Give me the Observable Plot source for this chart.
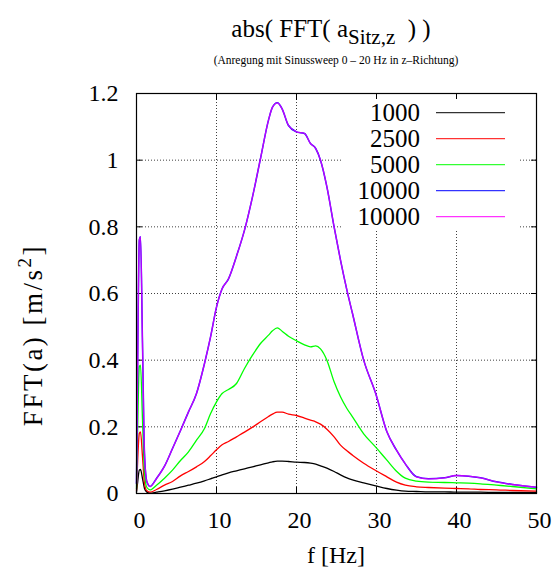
<!DOCTYPE html>
<html><head><meta charset="utf-8">
<script src="https://cdn.jsdelivr.net/npm/d3@7"></script>
<script src="https://cdn.jsdelivr.net/npm/@observablehq/plot@0.6"></script>
<style>
body{margin:0;background:#fff;}
#chart{width:554px;height:569px;}
#chart svg, #chart svg text, #chart svg tspan {font-family: "Liberation Serif", "Times New Roman", "DejaVu Serif", serif !important;}
</style>
</head><body><div id="chart"></div>
<script>
const freq = [0,0.15,0.35,0.5,0.75,1,1.3,1.7,2.5,3.5,4.5,5.5,6.5,7.5,8.5,9.25,10,10.7,11.5,12.5,13.5,14.5,15.5,16.5,17,17.6,18.2,19,20,21,21.75,22.4,23,23.8,24.7,25.5,26.3,27,28.4,29.9,31.3,32.5,33.6,35,36.5,38.5,40,41.5,43,45,47,50];
const a1000 = [0.004,0.035,0.07,0.072,0.045,0.015,0.004,0.001,0.004,0.008,0.013,0.019,0.025,0.031,0.038,0.044,0.050,0.056,0.062,0.068,0.074,0.080,0.086,0.092,0.095,0.097,0.097,0.096,0.094,0.093,0.091,0.088,0.083,0.076,0.066,0.056,0.047,0.041,0.032,0.023,0.015,0.010,0.007,0.006,0.005,0.005,0.004,0.004,0.004,0.003,0.003,0.003];
const a2500 = [0.008,0.10,0.18,0.185,0.11,0.03,0.008,0.004,0.012,0.025,0.036,0.053,0.066,0.080,0.096,0.113,0.131,0.146,0.156,0.170,0.184,0.199,0.215,0.231,0.238,0.244,0.244,0.238,0.234,0.226,0.22,0.215,0.208,0.193,0.17,0.145,0.128,0.115,0.091,0.069,0.05,0.034,0.025,0.02,0.018,0.016,0.015,0.014,0.012,0.011,0.009,0.007];
const a5000 = [0.015,0.20,0.38,0.385,0.22,0.06,0.018,0.011,0.025,0.046,0.07,0.099,0.125,0.16,0.195,0.239,0.275,0.300,0.312,0.330,0.375,0.415,0.450,0.475,0.488,0.497,0.487,0.472,0.458,0.446,0.440,0.443,0.434,0.40,0.335,0.29,0.255,0.23,0.179,0.139,0.10,0.067,0.046,0.037,0.034,0.033,0.032,0.031,0.029,0.025,0.021,0.014];
const a10000blue = [0.03,0.40,0.76,0.77,0.45,0.12,0.035,0.021,0.045,0.082,0.135,0.189,0.245,0.300,0.39,0.469,0.559,0.614,0.644,0.712,0.79,0.89,1.005,1.12,1.159,1.172,1.154,1.104,1.085,1.08,1.05,1.035,1.0,0.92,0.80,0.70,0.61,0.54,0.40,0.30,0.185,0.13,0.089,0.05,0.044,0.047,0.054,0.052,0.047,0.035,0.027,0.019];
const a10000magenta = [0.03,0.40,0.76,0.77,0.45,0.12,0.035,0.021,0.045,0.082,0.135,0.189,0.245,0.300,0.39,0.469,0.559,0.614,0.644,0.712,0.79,0.89,1.005,1.12,1.159,1.172,1.154,1.104,1.085,1.08,1.05,1.035,1.0,0.92,0.80,0.70,0.61,0.54,0.40,0.30,0.185,0.13,0.089,0.05,0.044,0.047,0.054,0.052,0.047,0.035,0.027,0.019];

const seriesNames = ["1000","2500","5000","10000","10000"];
const seriesColors = ["#000000","#ff0000","#00ff00","#0000ff","#ff00ff"];
const seriesValues = [a1000,a2500,a5000,a10000blue,a10000magenta];
const seriesOpacity = [1,1,1,1,0.75];
const xTicks = [0,10,20,30,40,50];
const xGrid = [10,20,30,40];
const yTicks = [0,0.2,0.4,0.6,0.8,1,1.2];
const yGrid = [0.2,0.4,0.6,0.8,1];
const yTickLabels = ["0","0.2","0.4","0.6","0.8","1","1.2"];
const titleMain = "abs( FFT( a";
const titleSub = "Sitz,z";
const titleEnd = "  ) )";
const subtitle = "(Anregung mit Sinussweep 0 \u2013 20 Hz in z\u2013Richtung)";
const xLabel = "f [Hz]";
const yLabelMain = "FFT(a) [m/s";
const yLabelSup = "2";
const yLabelEnd = "]";

const lines = seriesValues.map((vals, si) =>
  Plot.line(vals.map((v, i) => ({f: freq[i], v})), {
    x: "f", y: "v", stroke: seriesColors[si], strokeWidth: si === 3 ? 1.5 : 1.3,
    strokeOpacity: seriesOpacity[si], curve: "monotone-x"
  }));

const chart = Plot.plot({
  width: 554, height: 569,
  marginLeft: 136, marginRight: 18, marginTop: 93, marginBottom: 76,
  style: {fontFamily: "'Liberation Serif', 'Times New Roman', serif", fontSize: "24px", background: "#fff", color: "#000"},
  x: {domain: [0, 50]},
  y: {domain: [0, 1.2]},
  marks: [
    Plot.gridX(xGrid, {stroke: "#000", strokeOpacity: 0.75, strokeDasharray: "1,2"}),
    Plot.gridY(yGrid, {stroke: "#000", strokeOpacity: 0.75, strokeDasharray: "1,2"}),
    Plot.axisX(xTicks, {anchor: "bottom", tickSize: 0, tickPadding: 17, fontSize: 24, dx: 3, label: null}),
    Plot.axisX(xTicks, {anchor: "bottom", tickSize: -6, tickFormat: () => "", label: null}),
    Plot.axisX(xTicks, {anchor: "top", tickSize: -6, tickFormat: () => "", label: null}),
    Plot.axisY(yTicks, {anchor: "left", tickSize: 0, tickPadding: 18, fontSize: 24, tickFormat: d => yTickLabels[yTicks.indexOf(d)], label: null}),
    Plot.axisY(yTicks, {anchor: "left", tickSize: -6, tickFormat: () => "", label: null}),
    Plot.axisY(yTicks, {anchor: "right", tickSize: -6, tickFormat: () => "", label: null}),
    ...lines,
    Plot.frame({stroke: "#000", strokeWidth: 1.2})
  ]
});
document.getElementById("chart").appendChild(chart);

const svg = d3.select(chart);
const ns = "http://www.w3.org/2000/svg";
// legend background box (covers grid like gnuplot's key)
const firstLine = chart.querySelector('g[aria-label="line"]');
const box = document.createElementNS(ns, "rect");
box.setAttribute("x", 342); box.setAttribute("y", 99);
box.setAttribute("width", 178); box.setAttribute("height", 131);
box.setAttribute("fill", "#fff");
chart.insertBefore(box, firstLine);

const leg = svg.append("g").attr("font-size", 25);
seriesNames.forEach((name, i) => {
  const y = 112.7 + i * 26;
  leg.append("text").attr("x", 420).attr("y", y).attr("dy", "0.33em")
    .attr("text-anchor", "end").text(name);
  leg.append("line").attr("x1", 436).attr("x2", 505).attr("y1", y).attr("y2", y)
    .attr("stroke", seriesColors[i]).attr("stroke-width", 1.2).attr("stroke-opacity", 0.8);
});

// titles
const t = svg.append("text").attr("x", 331).attr("y", 37).attr("text-anchor", "middle")
  .attr("font-size", 25).style("white-space", "pre");
t.append("tspan").text(titleMain);
t.append("tspan").attr("dy", 7).attr("font-size", 21).text(titleSub);
t.append("tspan").attr("dy", -7).text(titleEnd);
svg.append("text").attr("x", 336).attr("y", 64).attr("text-anchor", "middle")
  .attr("font-size", 11.5).text(subtitle);
// axis labels
svg.append("text").attr("x", 336).attr("y", 563).attr("text-anchor", "middle")
  .attr("font-size", 24).text(xLabel);
const yl = svg.append("text").attr("transform", "translate(42,335) rotate(-90)")
  .attr("text-anchor", "middle").attr("font-size", 27).attr("letter-spacing", 2.5);
yl.append("tspan").text(yLabelMain);
yl.append("tspan").attr("dy", -11).attr("font-size", 19).text(yLabelSup);
yl.append("tspan").attr("dy", 11).text(yLabelEnd);
</script>
</body></html>
